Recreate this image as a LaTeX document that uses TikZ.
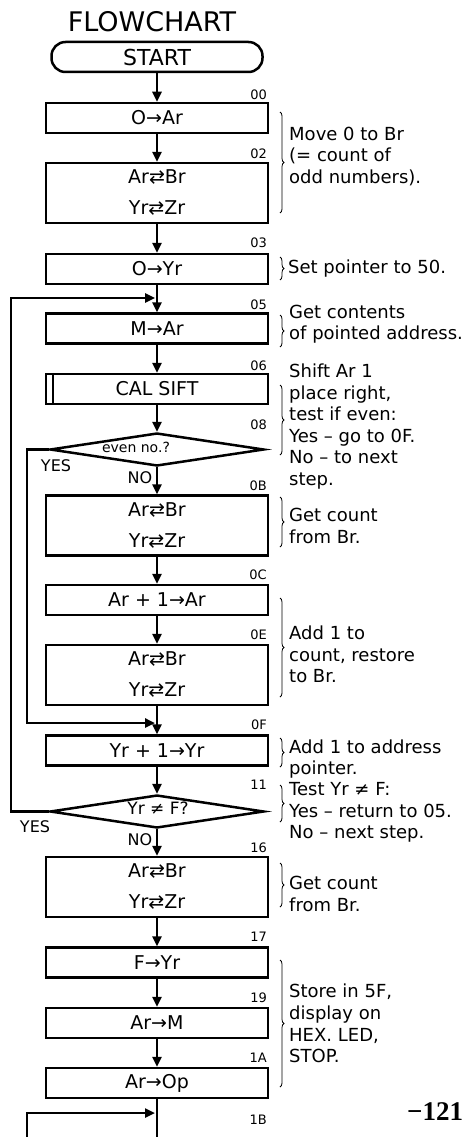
\documentclass[tikz,border=0pt]{standalone}
\usepackage{fontspec}
\setmainfont{DejaVu Sans}
\newfontfamily\pagefont{Liberation Serif}
\usetikzlibrary{shapes.geometric, arrows.meta, decorations.pathreplacing}

\tikzset{
  box/.style={draw, line width=2.5pt, minimum width=222pt, minimum height=30pt, inner sep=0pt, align=center, font=\fontsize{19}{31}\selectfont},
  tallbox/.style={box, minimum height=60pt},
  dec/.style={draw, diamond, line width=2.5pt, minimum width=214pt, minimum height=33pt, inner sep=0pt},
  note/.style={anchor=west, align=left, inner sep=0pt, font=\fontsize{18}{21.6}\selectfont},
  addr/.style={anchor=east, inner sep=0pt, font=\fontsize{13}{13}\selectfont},
  yn/.style={inner sep=0pt, font=\fontsize{16}{16}\selectfont},
  flow/.style={line width=2.4pt, -{Triangle[length=10pt,width=9pt]}},
  brc/.style={decorate, decoration={brace, amplitude=4pt}, line width=0.8pt}
}

\begin{document}
\begin{tikzpicture}[x=1pt, y=-1pt]
    \useasboundingbox (0,0) rectangle (469,1137);
    \node[font=\fontsize{27}{27}\selectfont] (title) at (152,22) {FLOWCHART};
    \node[draw, line width=2.5pt, rounded corners=14pt, minimum width=211pt, minimum height=30pt, inner sep=0pt, font=\fontsize{22}{22}\selectfont] (start) at (157,57) {START};

    % main column
    \node[box] (b1) at (157,118) {O→Ar};
    \node[tallbox] (b2) at (157,193) {Ar⇄Br\\Yr⇄Zr};
    \node[box] (b3) at (157,269) {O→Yr};
    \node[box] (b4) at (157,328.5) {M→Ar};
    \node[box] (b5) at (157,389) {CAL SIFT};
    \node[dec] (d1) at (157,449.5) {};
    \node[tallbox] (b6) at (157,525.5) {Ar⇄Br\\Yr⇄Zr};
    \node[box] (b7) at (157,600) {Ar + 1→Ar};
    \node[tallbox] (b8) at (157,675) {Ar⇄Br\\Yr⇄Zr};
    \node[box] (b9) at (157,750.5) {Yr + 1→Yr};
    \node[dec] (d2) at (157,811.5) {};
    \node[tallbox] (b10) at (157,887) {Ar⇄Br\\Yr⇄Zr};
    \node[box] (b11) at (157,962.5) {F→Yr};
    \node[box] (b12) at (157,1023) {Ar→M};
    \node[box] (b13) at (157,1083) {Ar→Op};
    \draw[line width=1.6pt] ([xshift=8pt]b5.north west) -- ([xshift=8pt]b5.south west);

    \node[yn, font=\fontsize{14}{14}\selectfont] (t1) at (136,447) {even no.?};
    \node[yn, font=\fontsize{17}{17}\selectfont] (t2) at (158,808) {Yr ≠ F?};
    \node[yn] (y1) at (56,466) {YES};
    \node[yn] (n1) at (140,478) {NO};
    \node[yn] (y2) at (35,827) {YES};
    \node[yn] (n2) at (140,840) {NO};

    \foreach \a/\b in {start/b1, b1/b2, b2/b3, b3/b4, b4/b5, b5/d1, d1/b6, b6/b7, b7/b8, b8/b9, b9/d2, d2/b10, b10/b11, b11/b12, b12/b13}
        \draw[flow] (\a) -- (\b);

    % loops back into the column
    \coordinate (j05) at (157,298);
    \coordinate (j0F) at (157,723);
    \coordinate (j1B) at (157,1113);
    \coordinate (lo) at (11,811.5);
    \coordinate (li) at (27,449.5);
    \coordinate (lb) at (27,1140);
    \coordinate (bot) at (157,1140);
    \draw[flow, shorten >=2pt] (d2.west) -- (lo) |- (j05);
    \draw[flow, shorten >=2pt] (d1.west) -- (li) |- (j0F);
    \draw[flow, shorten >=2pt] (lb) |- (j1B);
    \draw[line width=2.4pt] (b13) -- (bot);

    \foreach \a/\y in {00/95, 02/154, 03/243, 05/305, 06/366, 08/425, 0B/486, 0C/575, 0E/635, 0F/725, 11/785, 16/848, 17/937, 19/998, 1A/1058, 1B/1120}
        \node[addr] (a\a) at (267,\y) {\a};

    % comments on the right
    \foreach \t/\b in {112/213, 257/280, 315/347, 385/455, 497/547, 598/697, 738/767, 785/822, 863/907, 960/1087}
        \draw[brc] (280,\t) -- (280,\b);
    \node[note] (m1) at (289,156.5) {Move 0 to Br\\(= count of\\odd numbers).};
    \node[note] (m2) at (288,269) {Set pointer to 50.};
    \node[note] (m3) at (289,324) {Get contents\\of pointed address.};
    \node[note] (m4) at (289,426.5) {Shift Ar 1\\place right,\\test if even:\\Yes – go to 0F.\\No – to next\\step.};
    \node[note] (m5) at (289,526) {Get count\\from Br.};
    \node[note] (m6) at (289,654.5) {Add 1 to\\count, restore\\to Br.};
    \node[note] (m7) at (289,759) {Add 1 to address\\pointer.};
    \node[note] (m8) at (289,812.5) {Test Yr ≠ F:\\Yes – return to 05.\\No – next step.};
    \node[note] (m9) at (289,894) {Get count\\from Br.};
    \node[note] (m10) at (289,1023.5) {Store in 5F,\\display on\\HEX. LED,\\STOP.};

    \node[anchor=west, inner sep=0pt, font=\pagefont\bfseries\fontsize{27}{27}\selectfont] (pg) at (407,1112) {−121};
\end{tikzpicture}
\end{document}
